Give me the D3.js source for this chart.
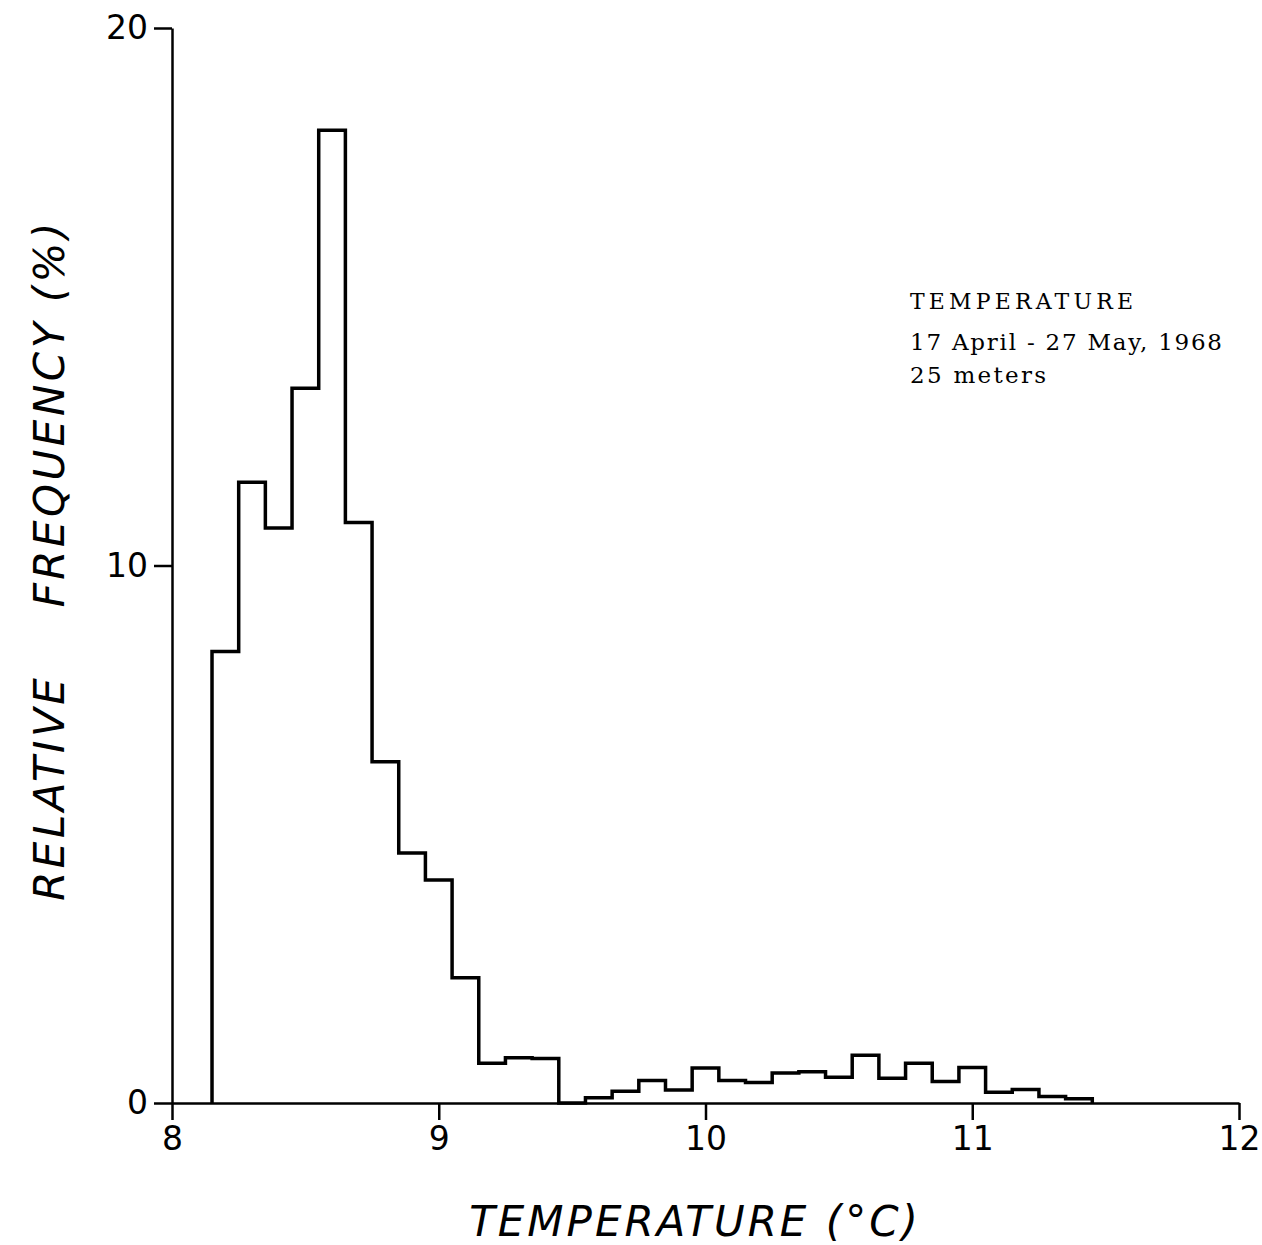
<!DOCTYPE html>
<html>
<head>
<meta charset="utf-8">
<script src="https://cdn.jsdelivr.net/npm/d3@7"></script>
<style>
  body { margin: 0; background: #fff; }
  svg { display: block; }
</style>
</head>
<body>
<div id="chart"></div>
<script>
// bin centres (0.1 degC wide bins) and relative frequency (%)
var binCenters = [8.2, 8.3, 8.4, 8.5, 8.6, 8.7, 8.8, 8.9, 9.0, 9.1, 9.2, 9.3, 9.4, 9.5, 9.6, 9.7, 9.8,
    9.9, 10.0, 10.1, 10.2, 10.3, 10.4, 10.5, 10.6, 10.7, 10.8, 10.9, 11.0, 11.1, 11.2, 11.3, 11.4];
var freq = [8.4, 11.55, 10.7, 13.3, 18.1, 10.8, 6.35, 4.65, 4.15, 2.33, 0.74, 0.84, 0.83, 0, 0.1, 0.22, 0.42,
    0.24, 0.65, 0.42, 0.38, 0.56, 0.58, 0.48, 0.89, 0.46, 0.74, 0.4, 0.66, 0.2, 0.25, 0.12, 0.08];
var binWidth = 0.1;

var xTicks = [8, 9, 10, 11, 12];
var yTicks = [0, 10, 20];
var xTitle = 'TEMPERATURE (°C)';
var yTitle = 'RELATIVE\u00a0\u00a0\u00a0\u00a0FREQUENCY (%)';
var note = ['TEMPERATURE', '17 April - 27 May, 1968', '25 meters'];

var width = 1262;
var height = 1245;

var x = d3.scaleLinear().domain([8, 12]).range([172, 1239]);
var y = d3.scaleLinear().domain([0, 20]).range([1103, 28]);

var svg = d3.select('#chart').append('svg')
    .attr('width', width)
    .attr('height', height);

// axes
var xAxis = d3.axisBottom(x)
    .tickValues(xTicks)
    .tickSize(17)
    .tickSizeOuter(0)
    .tickPadding(7)
    .tickFormat(d3.format('d'));

var yAxis = d3.axisLeft(y)
    .tickValues(yTicks)
    .tickSize(18)
    .tickSizeOuter(0)
    .tickPadding(6)
    .tickFormat(d3.format('d'));

var gx = svg.append('g')
    .attr('transform', 'translate(0,' + y(0) + ')')
    .call(xAxis);

var gy = svg.append('g')
    .attr('transform', 'translate(' + x(8) + ',0)')
    .call(yAxis);

[gx, gy].forEach(function (g) {
    g.select('.domain').attr('stroke', '#000').attr('stroke-width', 2.5);
    g.selectAll('.tick line').attr('stroke', '#000').attr('stroke-width', 2.5);
    g.selectAll('.tick text')
        .attr('fill', '#000')
        .style('font-family', '"DejaVu Sans", sans-serif')
        .style('font-size', '33px');
});

// histogram outline as one stepped line
var pts = [[binCenters[0] - binWidth / 2, 0]];
binCenters.forEach(function (c, i) {
    pts.push([c - binWidth / 2, freq[i]]);
    pts.push([c + binWidth / 2, freq[i]]);
});
pts.push([binCenters[binCenters.length - 1] + binWidth / 2, 0]);

var line = d3.line()
    .x(function (d) { return x(d[0]); })
    .y(function (d) { return y(d[1]); });

svg.append('path')
    .datum(pts)
    .attr('d', line)
    .attr('fill', 'none')
    .attr('stroke', '#000')
    .attr('stroke-width', 3.5)
    .attr('stroke-linejoin', 'miter');

// axis titles
svg.append('text')
    .attr('x', 695)
    .attr('y', 1236)
    .attr('text-anchor', 'middle')
    .style('font-family', '"DejaVu Sans", sans-serif')
    .style('font-style', 'italic')
    .style('font-size', '42px')
    .style('letter-spacing', '3px')
    .text(xTitle);

svg.append('text')
    .attr('transform', 'translate(64,560) rotate(-90)')
    .attr('text-anchor', 'middle')
    .style('font-family', '"DejaVu Sans", sans-serif')
    .style('font-style', 'italic')
    .style('font-size', '42px')
    .style('letter-spacing', '3.5px')
    .text(yTitle);

// annotation
var noteY = [309, 350, 383];
var noteLen = [223, 312, 136];
var noteSize = [22, 23, 23];
svg.append('g')
    .selectAll('text')
    .data(note)
    .enter()
    .append('text')
    .attr('x', 910)
    .attr('y', function (d, i) { return noteY[i]; })
    .attr('textLength', function (d, i) { return noteLen[i]; })
    .attr('lengthAdjust', 'spacing')
    .style('font-family', '"DejaVu Serif", serif')
    .style('font-size', function (d, i) { return noteSize[i] + 'px'; })
    .text(function (d) { return d; });
</script>
</body>
</html>
